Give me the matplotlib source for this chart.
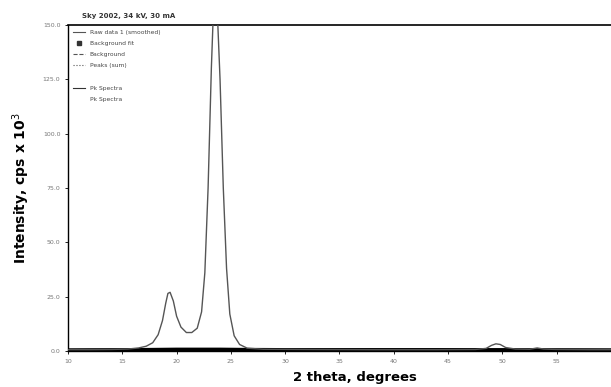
import matplotlib
matplotlib.use("Agg")
import matplotlib.pyplot as plt
from matplotlib.lines import Line2D

# Data (2 theta, intensity in cps x 10^3)
two_theta = [10.0, 12.0, 14.0, 15.5, 16.5, 17.2, 17.8, 18.3, 18.7, 19.0, 19.2, 19.4,
             19.7, 20.0, 20.4, 20.9, 21.4, 21.9, 22.3, 22.6, 22.9, 23.2, 23.45, 23.7,
             24.0, 24.3, 24.6, 24.9, 25.3, 25.8, 26.5, 28.0, 32.0, 38.0, 44.0, 47.5,
             48.5, 49.0, 49.4, 49.8, 50.3, 51.2, 52.5, 53.2, 53.8, 55.0, 58.0, 60.0]
intensity = [0.6, 0.6, 0.7, 0.9, 1.4, 2.2, 3.8, 7.5, 14.0, 22.0, 26.5, 27.0,
             23.0, 16.0, 11.0, 8.5, 8.5, 10.5, 18.0, 36.0, 75.0, 130.0, 165.0, 162.0,
             125.0, 75.0, 38.0, 17.0, 7.0, 3.0, 1.3, 0.8, 0.7, 0.6, 0.6, 0.7,
             1.2, 2.6, 3.3, 3.0, 1.6, 0.9, 0.8, 1.4, 0.9, 0.7, 0.6, 0.6]

# Background trace (thick dark band along the bottom)
bg_theta = [10.0, 16.0, 18.0, 20.0, 22.0, 24.0, 26.0, 30.0, 40.0, 50.0, 60.0]
bg_int = [0.3, 0.4, 0.5, 0.6, 0.6, 0.6, 0.5, 0.4, 0.4, 0.4, 0.3]

x_ticks = [10, 15, 20, 25, 30, 35, 40, 45, 50, 55, 60]
y_ticks = [0, 25, 50, 75, 100, 125, 150]

header = "Sky 2002, 34 kV, 30 mA"
legend_labels = ["Raw data 1 (smoothed)", "Background fit", "Background",
                 "Peaks (sum)", " ", "Pk Spectra", "Pk Spectra"]

fig = plt.figure(figsize=(6.11, 3.87), dpi=100)
ax = fig.add_axes([68 / 611, 36 / 387, 1 - 68 / 611, (351 - 25) / 387])

ax.plot(bg_theta, bg_int, color="black", lw=3.0, solid_capstyle="butt", zorder=2)
ax.plot(two_theta, intensity, color="#555555", lw=1.0, zorder=3)

ax.set_xlim(10, 60)
ax.set_ylim(0, 150)
ax.set_xticks(x_ticks)
ax.set_yticks(y_ticks)
ax.set_xticklabels([str(v) for v in x_ticks[:-1]] + [""])
ax.set_yticklabels([f"{v:.1f}" for v in y_ticks])
ax.tick_params(axis="both", labelsize=4.5, labelcolor="#777777", length=2, width=0.6)

ax.spines["right"].set_visible(False)
ax.spines["top"].set_linewidth(1.2)
ax.spines["left"].set_linewidth(1.0)
ax.spines["bottom"].set_linewidth(1.0)

fig.text(355 / 611, 1 - 377 / 387, "2 theta, degrees", fontsize=9.5,
         fontweight="bold", ha="center", va="center")
ax.set_ylabel("Intensity, cps x 10$^3$", fontsize=10, fontweight="bold", labelpad=8)

fig.text(82 / 611, 1 - 16 / 387, header, fontsize=5, fontweight="bold",
         color="#333333", va="center", ha="left")

handles = [
    Line2D([], [], color="#555555", lw=0.8),
    Line2D([], [], color="#333333", lw=0, marker="s", markersize=3),
    Line2D([], [], color="#555555", lw=0.8, ls="--"),
    Line2D([], [], color="#555555", lw=0.8, ls=":"),
    Line2D([], [], color="none", lw=0),
    Line2D([], [], color="#333333", lw=0.8),
    Line2D([], [], color="none", lw=0),
]
leg = ax.legend(handles, legend_labels, loc="upper left", bbox_to_anchor=(0.0, 1.0),
                frameon=False, fontsize=4.3, handlelength=2.0, labelspacing=1.0,
                borderaxespad=0.4, handletextpad=0.8)
for t in leg.get_texts():
    t.set_color("#444444")

fig.savefig("out.png", dpi=100)
